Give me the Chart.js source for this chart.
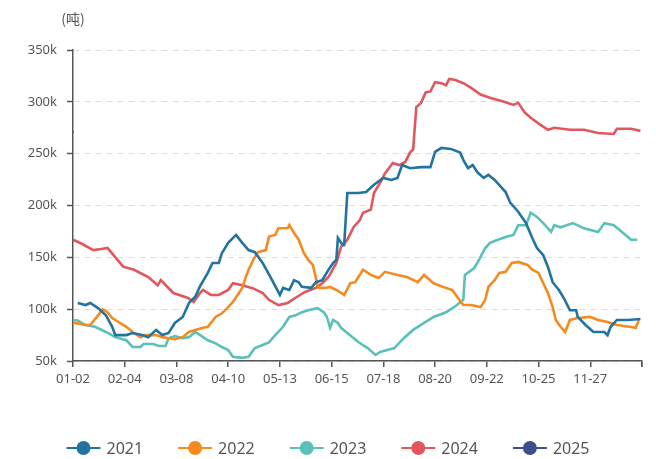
<!DOCTYPE html>
<html>
<head>
<meta charset="utf-8">
<script src="https://cdn.jsdelivr.net/npm/chart.js@4.4.1/dist/chart.umd.min.js"></script>
<style>
  html, body { margin: 0; padding: 0; background: #fff; }
  #wrap { position: relative; width: 656px; height: 459px; }
</style>
</head>
<body>
<div id="wrap"><canvas id="chart" width="656" height="459"></canvas></div>
<script>
// ===== Data (day offset from 01-02, value in k tons) =====
const startDate = new Date(2024, 0, 2);
const dayMax = 363;
const tickStep = 33;
const yTicksK = [50, 100, 150, 200, 250, 300, 350];
const unitLabel = '(吨)';

const seriesNames  = ['2021', '2022', '2023', '2024', '2025'];
const seriesColors = ['#22739f', '#f58a1e', '#5bbfba', '#e0575e', '#3f4e8e'];

const days2021 = [3, 8, 11, 16, 21, 25, 27, 34, 38, 44, 48, 53, 57, 61, 65, 70, 74, 78, 81, 86, 89, 93, 95, 99, 104, 108, 112, 116, 121, 127, 132, 134, 138, 141, 144, 146, 152, 155, 159, 163, 166, 168, 169, 172, 173, 175, 182, 187, 192, 198, 203, 207, 210, 215, 222, 228, 231, 235, 241, 247, 249, 252, 255, 258, 262, 265, 269, 273, 276, 279, 284, 289, 293, 296, 300, 303, 306, 310, 313, 317, 321, 322, 327, 332, 339, 341, 343, 347, 354, 362];
const vals2021 = [106, 104, 106, 101, 94, 83, 75, 75, 77, 75, 73, 80, 75, 77, 86.7, 92.5, 106, 112, 122, 135, 144.6, 144.6, 154, 164, 171.6, 164, 157, 155, 144.6, 128, 113.7, 120.5, 118.5, 128, 126, 121.5, 120.5, 126, 128, 138, 144.6, 147.5, 168.7, 162, 162, 212, 212, 213, 220, 226.6, 224.7, 226.6, 239, 236, 237, 237, 251.7, 255.6, 254.6, 251, 244, 236, 239, 232, 226.6, 229.6, 224.7, 218, 213, 202.5, 194, 183, 168.7, 159, 152, 140.7, 126, 118.5, 111, 99, 99, 92.5, 84.7, 78, 78, 75, 83, 89.6, 89.6, 90.5];

const days2022 = [0, 8, 11, 16, 19, 22, 25, 29, 34, 38, 43, 46, 53, 57, 61, 65, 70, 74, 78, 83, 86, 91, 95, 99, 102, 105, 108, 110, 112, 115, 118, 123, 125, 129, 131, 137, 138, 141, 144, 147, 150, 153, 156, 157, 161, 164, 168, 173, 177, 180, 185, 190, 195, 199, 207, 213, 220, 224, 230, 236, 242, 245, 249, 254, 260, 263, 265, 269, 272, 276, 280, 284, 290, 293, 297, 300, 303, 306, 308, 311, 314, 317, 322, 330, 335, 341, 347, 355, 359, 361];
const vals2022 = [87, 84.7, 84.7, 94, 100, 97, 91.5, 87.6, 83, 78, 73, 75, 75, 73, 72, 71, 73, 78, 80, 82, 83, 92.5, 96, 102, 107, 113.7, 120.5, 130, 138, 147.5, 155, 157, 170, 171.6, 178, 178, 181, 173.5, 167, 155, 147.5, 142.7, 123, 120.5, 120.5, 121.5, 118.5, 113.7, 125, 126, 138, 133, 130, 136, 133, 131, 126, 133, 125, 121.5, 118.5, 112, 104, 104, 102, 109, 121.5, 128, 135, 136, 144.6, 145.6, 142.7, 138, 135, 125, 115.6, 102, 89.6, 83, 78, 89.6, 91.5, 92.5, 89.6, 87.6, 84.7, 83, 82, 89.6];

const days2023 = [0, 3, 8, 14, 21, 27, 34, 38, 43, 45, 51, 55, 59, 61, 65, 70, 74, 78, 83, 86, 91, 95, 99, 102, 108, 112, 116, 121, 125, 129, 134, 138, 142, 146, 150, 156, 160, 162, 164, 166, 169, 171, 175, 182, 188, 193, 196, 205, 211, 217, 224, 230, 238, 245, 249, 250, 256, 259, 263, 266, 271, 277, 281, 284, 289, 292, 296, 300, 305, 307, 311, 319, 326, 335, 339, 345, 351, 356, 360];
const vals2023 = [89.6, 89, 84.7, 83, 78, 73, 70, 63.5, 63.5, 66.4, 66.4, 64.5, 64.5, 72, 74, 72, 73, 78, 73, 70, 67, 63.5, 60.6, 54, 53, 54, 62.5, 65.4, 68, 75, 83, 92.5, 94, 97, 99, 101, 97, 92.5, 82, 89.6, 86.7, 82, 77, 68.3, 62.5, 55.8, 58.7, 62.5, 72, 80, 86.7, 92.5, 97, 104, 109, 133, 139.7, 147.5, 159, 164, 167, 170, 171.6, 181, 181, 193, 189, 183, 174.5, 181, 179, 183, 178, 174.5, 183, 181, 173.5, 167, 167];

const days2024 = [0, 5, 13, 18, 22, 24, 32, 39, 48, 54, 56, 64, 73, 77, 81, 83, 88, 93, 99, 102, 108, 115, 121, 125, 131, 137, 142, 148, 155, 159, 163, 168, 171, 175, 179, 183, 185, 190, 192, 196, 199, 204, 208, 212, 215, 217, 219, 222, 225, 228, 231, 235, 238, 240, 244, 249, 254, 260, 266, 275, 281, 284, 288, 292, 298, 303, 307, 317, 326, 335, 345, 347, 356, 362];
const vals2024 = [167, 163.6, 157, 158, 159, 155.5, 141, 138, 131, 123, 128, 115.6, 111, 107, 115.6, 118.5, 113.7, 113.7, 118.5, 125, 123, 120, 115.6, 109, 104, 106, 111, 116.6, 120.5, 125, 131, 144.6, 160, 167, 179, 186, 193, 196, 212, 222, 231, 241, 239, 242, 251, 254, 295, 299, 309, 310, 319, 318, 316, 322, 321, 318, 313.5, 307, 304, 300, 297, 299, 290, 284.6, 278, 273, 275, 273, 273, 270, 269, 274, 274, 272];

const days2025 = [0];
const vals2025 = [271];

// ===== Helpers =====
function pad2(n) { return String(n).padStart(2, '0'); }
function dayLabel(d) {
  const dt = new Date(startDate.getFullYear(), startDate.getMonth(), startDate.getDate() + d);
  return `${pad2(dt.getMonth() + 1)}-${pad2(dt.getDate())}`;
}
function toPoints(days, vals) {
  return days.map((d, i) => ({ x: d, y: vals[i] }));
}

const allDays = [days2021, days2022, days2023, days2024, days2025];
const allVals = [vals2021, vals2022, vals2023, vals2024, vals2025];

const datasets = seriesNames.map((name, i) => ({
  label: name,
  data: toPoints(allDays[i], allVals[i]),
  borderColor: seriesColors[i],
  backgroundColor: seriesColors[i],
  borderWidth: 2.6,
  pointRadius: i === 4 ? 1 : 0,
  pointBorderWidth: 0,
  pointHoverRadius: 0,
  tension: 0,
  fill: false
}));

// y unit title + custom legend (line through a dot)
const extrasPlugin = {
  id: 'extras',
  afterDraw(chart) {
    const c = chart.ctx;
    c.save();
    c.fillStyle = '#555';
    c.font = '14px "Noto Sans CJK SC", "Noto Sans", sans-serif';
    c.textAlign = 'center';
    c.textBaseline = 'middle';
    c.fillText(unitLabel, chart.chartArea.left, 19);

    c.font = '16px "Noto Sans", sans-serif';
    c.textAlign = 'left';
    const gapAfter = 35, half = 17, textOff = 23;
    const widths = seriesNames.map(n => c.measureText(n).width);
    let total = 0;
    widths.forEach((w, i) => { total += half + textOff + w + (i < widths.length - 1 ? gapAfter : 0); });
    let cx = (chart.width - total) / 2 + half;
    const y = 448;
    seriesNames.forEach((name, i) => {
      c.strokeStyle = seriesColors[i];
      c.lineWidth = 2;
      c.beginPath(); c.moveTo(cx - half, y); c.lineTo(cx + half, y); c.stroke();
      c.fillStyle = seriesColors[i];
      c.beginPath(); c.arc(cx, y, 7, 0, Math.PI * 2); c.fill();
      c.fillStyle = '#555';
      c.fillText(name, cx + textOff, y + 1);
      cx += textOff + widths[i] + gapAfter + half;
    });
    c.restore();
  }
};

new Chart(document.getElementById('chart'), {
  type: 'line',
  data: { datasets },
  options: {
    responsive: false,
    animation: false,
    layout: { padding: { top: 50, right: 14, bottom: 68, left: 0 } },
    plugins: { legend: { display: false }, tooltip: { enabled: false } },
    scales: {
      x: {
        type: 'linear',
        min: 0, max: dayMax,
        afterFit: s => { s.height = 30; },
        afterBuildTicks: s => {
          const t = [];
          for (let d = 0; d <= dayMax; d += tickStep) t.push({ value: d });
          t.push({ value: dayMax });
          s.ticks = t;
        },
        ticks: {
          color: '#555', padding: 4, maxRotation: 0, autoSkip: false,
          font: { size: 13, family: '"Noto Sans", sans-serif' },
          callback: v => (v % tickStep === 0 && v < dayMax) ? dayLabel(v) : ''
        },
        grid: { drawOnChartArea: false, drawTicks: true, tickLength: 6, tickColor: '#555', lineWidth: 1.5 },
        border: { color: '#555', width: 1.5 }
      },
      y: {
        min: 50, max: 350,
        afterFit: s => { s.width = 73; },
        afterBuildTicks: s => { s.ticks = yTicksK.map(v => ({ value: v })); },
        ticks: {
          color: '#555', padding: 10,
          font: { size: 13, family: '"Noto Sans", sans-serif' },
          callback: v => v + 'k'
        },
        grid: { color: '#dcdcdc', lineWidth: 1, tickLength: 6, tickColor: '#555', tickWidth: 1.5 },
        border: { color: '#555', width: 1.5, dash: [6, 5] }
      }
    }
  },
  plugins: [extrasPlugin]
});
</script>
</body>
</html>
